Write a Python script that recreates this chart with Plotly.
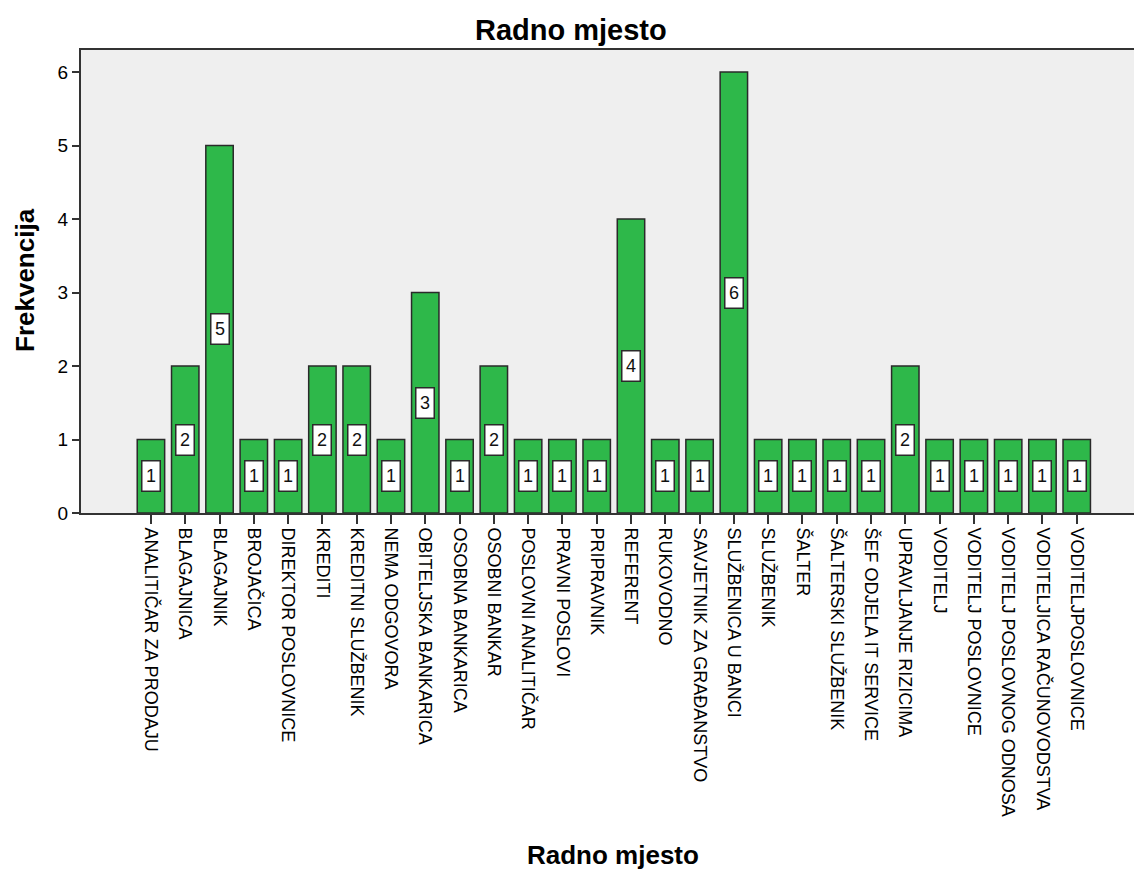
import plotly.graph_objects as go

categories = [
    "ANALITIČAR ZA PRODAJU", "BLAGAJNICA", "BLAGAJNIK", "BROJAČICA", "DIREKTOR POSLOVNICE",
    "KREDITI", "KREDITNI SLUŽBENIK", "NEMA ODGOVORA", "OBITELJSKA BANKARICA", "OSOBNA BANKARICA",
    "OSOBNI BANKAR", "POSLOVNI ANALITIČAR", "PRAVNI POSLOVI", "PRIPRAVNIK", "REFERENT",
    "RUKOVODNO", "SAVJETNIK ZA GRAĐANSTVO", "SLUŽBENICA U BANCI", "SLUŽBENIK", "ŠALTER",
    "ŠALTERSKI SLUŽBENIK", "ŠEF ODJELA IT SERVICE", "UPRAVLJANJE RIZICIMA", "VODITELJ",
    "VODITELJ POSLOVNICE", "VODITELJ POSLOVNOG ODNOSA", "VODITELJICA RAČUNOVODSTVA", "VODITELJPOSLOVNICE",
]
counts = [1, 2, 5, 1, 1, 2, 2, 1, 3, 1, 2, 1, 1, 1, 4, 1, 1, 6, 1, 1, 1, 1, 2, 1, 1, 1, 1, 1]
y_ticks = [0, 1, 2, 3, 4, 5, 6]

FONT = "Liberation Sans, Arial, sans-serif"
W, H = 1134, 870
L, T, B = 81, 50, 513

fig = go.Figure()
fig.add_trace(go.Bar(
    x=categories, y=counts,
    marker=dict(color="#2EB84A", line=dict(color="#2A2A2A", width=1.5)),
    width=0.8, hoverinfo="skip",
))

for c, v in zip(categories, counts):
    fig.add_annotation(
        x=c, y=v / 2, text=str(v), showarrow=False,
        font=dict(family=FONT, size=18, color="#111111"),
        bgcolor="#FFFFFF", bordercolor="#2A2A2A", borderwidth=1.5,
        width=15, height=27, borderpad=1,
    )

def px_x(p):
    return (p - L) / (W - L)

def px_y(p):
    return (B - p) / (B - T)

fig.update_layout(
    width=W, height=H,
    margin=dict(l=L, r=0, t=T, b=H - B),
    paper_bgcolor="#FFFFFF", plot_bgcolor="#EFEFEF",
    showlegend=False,
    font=dict(family=FONT, color="#000000"),
)

fig.update_xaxes(
    type="category", range=[-2.04, 28.67],
    showline=True, linecolor="#333333", linewidth=2, mirror=True,
    ticks="outside", ticklen=9, tickcolor="#333333", tickwidth=1.5,
    tickangle=90, tickfont=dict(family=FONT, size=18, color="#000000"),
    showgrid=False,
)
fig.update_yaxes(
    range=[0, 6.30], tickvals=y_ticks,
    showline=True, linecolor="#333333", linewidth=2,
    ticks="outside", ticklen=7, tickcolor="#333333", tickwidth=2,
    tickfont=dict(family=FONT, size=19, color="#000000"),
    showgrid=False, zeroline=False,
)

fig.add_annotation(text="<b>Radno mjesto</b>", xref="paper", yref="paper",
                   x=px_x(571), y=px_y(30), showarrow=False,
                   xanchor="center", yanchor="middle",
                   font=dict(family=FONT, size=29, color="#000000"))
fig.add_annotation(text="<b>Frekvencija</b>", xref="paper", yref="paper",
                   x=px_x(25), y=px_y(280), showarrow=False, textangle=-90,
                   xanchor="center", yanchor="middle",
                   font=dict(family=FONT, size=26, color="#000000"))
fig.add_annotation(text="<b>Radno mjesto</b>", xref="paper", yref="paper",
                   x=px_x(613), y=px_y(855), showarrow=False,
                   xanchor="center", yanchor="middle",
                   font=dict(family=FONT, size=26, color="#000000"))

fig.write_html("out.html", config={"displayModeBar": False},
               post_script="document.body.style.margin='0';document.body.style.overflow='hidden';")
